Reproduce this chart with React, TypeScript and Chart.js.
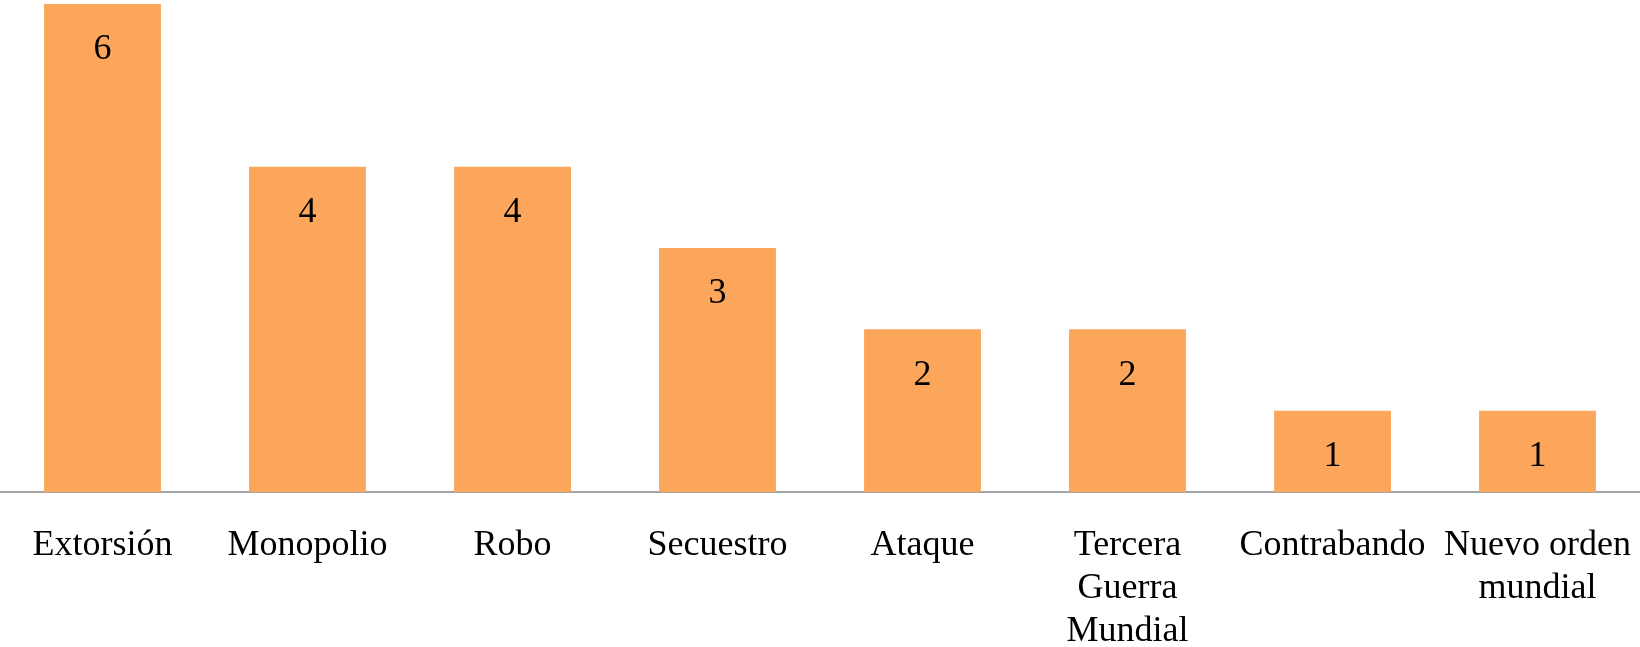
import React, { useEffect, useRef } from "react";
import { Chart, registerables } from "chart.js";

Chart.register(...registerables);

const categories: (string | string[])[] = [
  "Extorsión",
  "Monopolio",
  "Robo",
  "Secuestro",
  "Ataque",
  ["Tercera", "Guerra", "Mundial"],
  "Contrabando",
  ["Nuevo orden", "mundial"],
];
const values = [6, 4, 4, 3, 2, 2, 1, 1];

const FONT = "'Liberation Serif', 'Times New Roman', serif";

const valueLabels = {
  id: "valueLabels",
  afterDatasetsDraw(chart: any) {
    const ctx = chart.ctx;
    const meta = chart.getDatasetMeta(0);
    ctx.save();
    ctx.font = `36px ${FONT}`;
    ctx.fillStyle = "#000000";
    ctx.textAlign = "center";
    ctx.textBaseline = "middle";
    meta.data.forEach((bar: any, i: number) => {
      ctx.fillText(String(values[i]), bar.x, bar.y + 46);
    });
    ctx.restore();
  },
};

export default function App() {
  const ref = useRef<HTMLCanvasElement>(null);
  useEffect(() => {
    if (!ref.current) return;
    const chart = new Chart(ref.current, {
      type: "bar",
      data: {
        labels: categories,
        datasets: [
          {
            data: values,
            backgroundColor: "#FBA65A",
            borderWidth: 0,
            categoryPercentage: 1,
            barPercentage: 0.57,
          },
        ],
      },
      options: {
        animation: false,
        responsive: false,
        maintainAspectRatio: false,
        layout: { padding: { top: 4, left: 0, right: 0, bottom: 0 } },
        plugins: { legend: { display: false }, tooltip: { enabled: false } },
        scales: {
          x: {
            grid: { display: false, drawTicks: false },
            border: { display: true, color: "#A6A6A6", width: 2 },
            ticks: {
              color: "#000000",
              font: { family: FONT, size: 36, lineHeight: 1.2 },
              padding: 32,
              maxRotation: 0,
              minRotation: 0,
              autoSkip: false,
            },
            afterFit: (scale: any) => {
              scale.height = 155;
              scale.paddingLeft = 0;
              scale.paddingRight = 0;
            },
          },
          y: {
            display: false,
            min: 0,
            max: 6,
          },
        },
      },
      plugins: [valueLabels],
    });
    return () => chart.destroy();
  }, []);
  return (
    <div style={{ position: "absolute", left: 0, top: 0, width: 1640, height: 647, background: "#fff" }}>
      <canvas ref={ref} width={1640} height={647} style={{ display: "block" }} />
    </div>
  );
}
